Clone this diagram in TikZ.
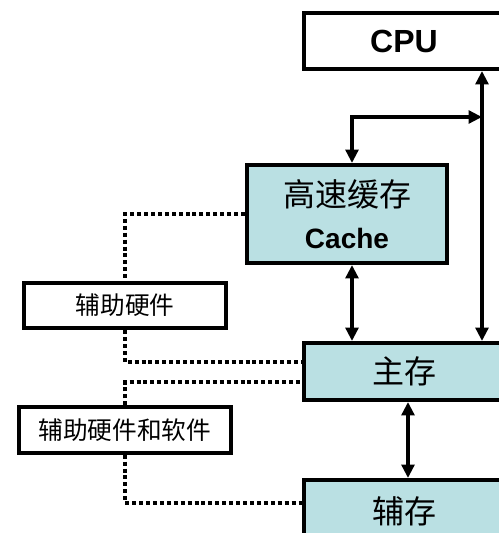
\documentclass[tikz,border=0pt]{standalone}
\usepackage{fontspec}
\setmainfont{Liberation Sans}
\newfontfamily\cjk{Noto Sans CJK SC}
\usetikzlibrary{arrows.meta,positioning}
\definecolor{memfill}{RGB}{186,224,227}
\tikzset{
    unitbox/.style={draw, line width=3pt, fill=white, inner sep=0pt, align=center},
    membox/.style={unitbox, fill=memfill},
    aidbox/.style={unitbox, minimum height=34pt, font=\cjk\fontsize{18.5}{22}\selectfont},
    busline/.style={line width=3pt, {Triangle[length=10pt,width=9.5pt]}-{Triangle[length=10pt,width=9.5pt]}},
    ctrlline/.style={line width=3pt, dash pattern=on 3pt off 2.2pt}
}

\begin{document}
\begin{tikzpicture}[x=0.75pt, y=-0.75pt]
    \useasboundingbox (0, 0) rectangle (499, 533);
    \clip (0, 0) rectangle (499, 533);
    % storage levels
    \node[unitbox, minimum width=150pt, minimum height=42pt, font=\bfseries\fontsize{24}{28}\selectfont] (cpu) at (404, 41) {CPU};
    \node[membox, minimum width=150pt, minimum height=73.5pt, font=\fontsize{24}{31}\selectfont] (cache) at (347, 214) {{\cjk 高速缓存}\\\textbf{\fontsize{21}{31}\selectfont Cache}};
    \node[membox, minimum width=150pt, minimum height=42.75pt, font=\cjk\fontsize{24}{28}\selectfont] (main) at (404, 371.5) {主存};
    \node[membox, minimum width=150pt, minimum height=46.5pt, font=\cjk\fontsize{24}{28}\selectfont] (aux) at (404, 511) {辅存};
    % helpers
    \node[aidbox, minimum width=152pt] (hw) at (125, 305.5) {辅助硬件};
    \node[aidbox, minimum width=159pt] (hwsw) at (125, 430) {辅助硬件和软件};
    % data paths
    \coordinate (bus) at (482, 117);
    \draw[busline] (bus |- cpu.south) -- (bus |- main.north);
    \draw[busline] (bus) -| ([xshift=3.75pt]cache.north);
    \draw[busline] ([xshift=3.75pt]cache.south) -- ([xshift=3.75pt]cache.south |- main.north);
    \draw[busline] ([xshift=3pt]main.south) -- ([xshift=3pt]main.south |- aux.north);
    % control
    \draw[ctrlline] (cache.west) -| (hw.north);
    \draw[ctrlline] (hw.south) |- ([yshift=7pt]main.west);
    \draw[ctrlline] (hwsw.north) |- ([yshift=-8pt]main.west);
    \draw[ctrlline] (hwsw.south) |- ([yshift=6pt]aux.west);
\end{tikzpicture}
\end{document}
